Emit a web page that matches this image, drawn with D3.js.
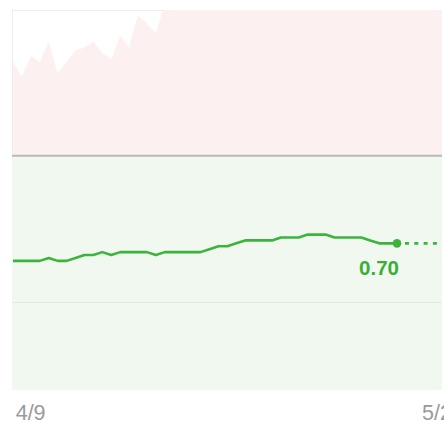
<!DOCTYPE html>
<html><head><meta charset="utf-8">
<script src="https://cdn.jsdelivr.net/npm/d3@7"></script>
<style>html,body{margin:0;padding:0;background:#fff;overflow:hidden}svg{display:block}</style>
</head><body>
<script>
// ---- data ----
const mainSeries = [0.64,0.64,0.64,0.64,0.65,0.64,0.64,0.65,0.66,0.66,0.67,0.66,0.67,0.67,0.67,0.67,0.66,0.67,0.67,0.67,0.67,0.67,0.68,0.69,0.69,0.70,0.71,0.71,0.71,0.71,0.72,0.72,0.72,0.73,0.73,0.73,0.72,0.72,0.72,0.72,0.71,0.70,0.70,0.70];
const upperSeries = [1.32,1.27,1.34,1.32,1.39,1.28,1.32,1.36,1.37,1.39,1.35,1.33,1.41,1.37,1.48,1.45,1.42,1.52,1.58,1.62,1.60,1.65,1.63,1.68,1.70,1.66,1.72,1.75,1.71,1.74,1.78,1.76,1.80,1.77,1.82,1.79,1.84,1.81,1.85,1.83,1.86,1.84,1.88,1.87];
const threshold = 1.0;
const gridValues = [0.5];
const yDomain = [0.2, 1.5];
const tickLabels = ["4/9", "5/2"];
const tickIndex = [0.3, 45.8];
const lastLabel = "0.70";

// ---- layout ----
const W = 444, H = 424;
const pL = 12, pR = 442, pT = 10, pB = 390;
const green = "#3cb43c";

const svg = d3.select("body").append("svg").attr("width", W).attr("height", H);

const x = d3.scaleLinear().domain([0, mainSeries.length - 1]).range([pL + 1, 397]);
const y = d3.scaleLinear().domain(yDomain).range([pB - 0.5, pT - 0.5]);

svg.append("defs").append("clipPath").attr("id", "plot")
  .append("rect").attr("x", pL).attr("y", pT).attr("width", pR - pL).attr("height", pB - pT);

// plot frame
svg.append("rect").attr("x", pL + 0.5).attr("y", pT + 0.5)
  .attr("width", pR - pL - 1).attr("height", pB - pT - 1)
  .attr("fill", "#fff").attr("stroke", "#eeeeee");

const g = svg.append("g").attr("clip-path", "url(#plot)");

// pink zone: area from threshold up to upper series
const n = upperSeries.length;
g.append("path")
  .datum(upperSeries)
  .attr("d", d3.area()
    .x((d, i) => i === 0 ? pL + 1 : (i === n - 1 ? pR : x(i)))
    .y0(y(threshold)).y1(d => y(d)))
  .attr("fill", "#fcf0f0");

// green zone below threshold
g.append("rect").attr("x", pL).attr("y", y(threshold))
  .attr("width", pR - pL).attr("height", pB - y(threshold))
  .attr("fill", "#f1f8f0");

// gridlines
g.selectAll(".grid").data(gridValues).enter().append("line")
  .attr("x1", pL).attr("x2", pR)
  .attr("y1", d => Math.round(y(d)) + 0.5).attr("y2", d => Math.round(y(d)) + 0.5)
  .attr("stroke", "#e3e8e2").attr("stroke-width", 1);

// threshold line
g.append("line").attr("x1", pL).attr("x2", pR)
  .attr("y1", y(threshold)).attr("y2", y(threshold))
  .attr("stroke", "#b9b9b9").attr("stroke-width", 2);

// main line
g.append("path").datum(mainSeries)
  .attr("d", d3.line().x((d, i) => x(i)).y(d => y(d)))
  .attr("fill", "none").attr("stroke", green).attr("stroke-width", 2.6)
  .attr("stroke-linejoin", "round");

const li = mainSeries.length - 1;
const lastV = mainSeries[li];
// dotted projection
g.append("line").attr("x1", x(li)).attr("x2", pR)
  .attr("y1", y(lastV)).attr("y2", y(lastV))
  .attr("stroke", green).attr("stroke-width", 2.6)
  .attr("stroke-dasharray", "4,5.3").attr("stroke-dashoffset", 1.3);

g.append("circle").attr("cx", x(li)).attr("cy", y(lastV)).attr("r", 4.3).attr("fill", green);

svg.append("text").attr("x", x(li) - 18).attr("y", y(lastV) + 32)
  .attr("text-anchor", "middle")
  .attr("font-family", "Liberation Sans, Arial, sans-serif")
  .attr("font-weight", "bold").attr("font-size", 20.5)
  .attr("fill", "#3aae37").text(lastLabel);

// x tick labels
svg.selectAll(".xl").data(tickLabels).enter().append("text")
  .attr("x", (d, i) => x(tickIndex[i])).attr("y", 420)
  .attr("text-anchor", "start")
  .attr("font-family", "Liberation Sans, Arial, sans-serif")
  .attr("font-size", 21.5).attr("fill", "#9a9a9a").text(d => d);
</script>
</body></html>
